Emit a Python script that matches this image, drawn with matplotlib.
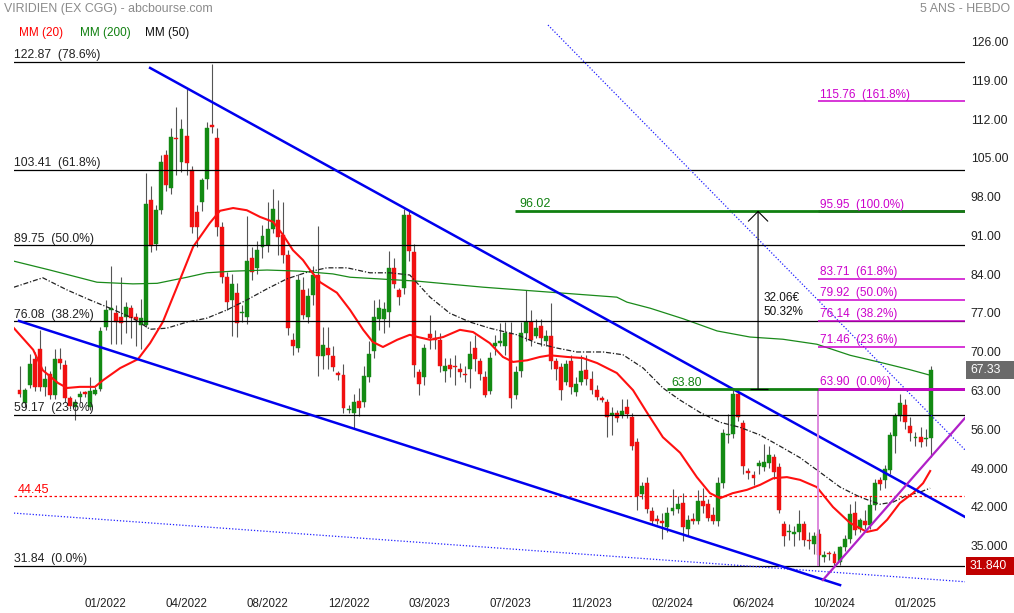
import matplotlib
matplotlib.use('Agg')
import matplotlib.pyplot as plt
import matplotlib.transforms as mtransforms
from matplotlib.patches import Rectangle
import numpy as np

plt.rcParams['font.family'] = ['Liberation Sans', 'DejaVu Sans']

# weekly candles, oldest first
opens = [63.6, 61.2, 64.5, 69.2, 71.0, 64.2, 66.5, 62.7, 69.2, 68.1,
         62.1, 60.6, 62.3, 63.2, 60.6, 63.0, 63.9, 75.1, 78.0, 77.5,
         76.9, 76.9, 78.4, 76.8, 75.4, 75.4, 98.0, 90.0, 96.1, 106.1,
         100.1, 109.2, 104.9, 109.5, 103.4, 95.8, 97.6, 101.7, 111.5, 109.1,
         93.1, 84.1, 79.9, 81.1, 77.5, 76.8, 87.4, 85.6, 89.4, 89.8,
         92.8, 94.3, 91.6, 88.0, 72.7, 71.3, 81.7, 76.9, 80.8, 84.4,
         69.7, 71.2, 69.8, 66.7, 66.3, 60.0, 59.4, 61.7, 61.4, 66.0,
         70.6, 76.4, 76.4, 77.8, 85.6, 81.7, 82.1, 95.2, 88.6, 66.9,
         65.9, 73.7, 73.1, 72.7, 67.1, 68.1, 68.0, 67.5, 66.5, 67.4,
         71.2, 68.8, 66.0, 63.5, 71.6, 72.1, 71.6, 73.9, 62.7, 67.1,
         73.9, 75.9, 73.4, 75.2, 72.5, 73.4, 68.9, 67.7, 65.1, 68.9,
         63.2, 65.0, 67.2, 65.7, 63.7, 62.1, 61.4, 59.2, 59.4, 59.1,
         60.5, 58.8, 54.3, 44.9, 46.9, 41.8, 40.3, 40.0, 38.8, 41.8,
         42.1, 43.3, 38.6, 40.3, 40.0, 43.6, 43.0, 41.1, 40.0, 46.9,
         55.5, 55.7, 63.0, 57.6, 49.0, 48.3, 49.9, 49.8, 50.4, 51.6,
         49.8, 39.4, 38.0, 37.6, 38.0, 39.5, 36.6, 35.9, 37.6, 33.5,
         34.1, 34.1, 32.6, 35.2, 36.7, 41.5, 38.6, 40.0, 39.2, 42.9,
         47.3, 47.3, 49.2, 55.3, 58.9, 61.0, 57.2, 54.9, 55.1, 54.7,
         55.0]
highs = [68.0, 64.0, 70.2, 70.5, 74.5, 68.0, 67.0, 71.0, 71.3, 69.0,
         62.5, 62.0, 63.5, 63.5, 66.0, 64.2, 75.0, 79.9, 86.0, 79.0,
         84.0, 79.5, 79.0, 77.5, 80.0, 102.8, 100.5, 97.0, 106.0, 107.0,
         111.0, 114.8, 112.5, 118.0, 104.0, 97.0, 102.0, 112.0, 122.6, 111.0,
         94.0, 85.0, 84.5, 83.0, 79.0, 95.1, 89.5, 90.5, 93.5, 97.5,
         99.9, 98.0, 97.5, 89.0, 74.0, 84.5, 84.0, 82.0, 86.0, 93.3,
         75.0, 75.0, 71.5, 67.0, 68.3, 61.0, 63.0, 64.0, 68.0, 72.5,
         79.8, 80.0, 79.5, 88.8, 87.5, 82.0, 96.3, 96.0, 90.0, 67.5,
         72.0, 77.2, 74.5, 74.0, 69.5, 69.5, 70.0, 68.5, 68.0, 72.5,
         73.5, 69.5, 67.0, 70.5, 73.5, 75.8, 76.0, 76.0, 68.0, 76.0,
         81.7, 78.0, 76.5, 76.5, 74.5, 79.3, 69.5, 68.5, 69.0, 70.0,
         66.0, 69.9, 70.0, 67.0, 64.5, 62.5, 62.0, 60.5, 60.0, 62.0,
         62.0, 59.5, 55.0, 47.0, 48.0, 42.5, 41.0, 41.5, 42.5, 45.7,
         44.5, 45.0, 41.0, 41.5, 45.5, 46.0, 44.0, 42.5, 48.0, 56.5,
         59.3, 63.8, 63.8, 58.2, 49.5, 49.0, 51.0, 53.9, 53.5, 52.0,
         50.5, 40.0, 39.5, 39.0, 42.0, 40.0, 38.0, 38.0, 38.5, 34.5,
         34.5, 34.5, 35.5, 37.5, 43.0, 43.5, 40.5, 42.0, 44.4, 47.5,
         48.0, 50.0, 56.0, 59.5, 62.9, 62.0, 58.7, 56.0, 57.0, 56.5,
         68.0]
lows = [62.3, 60.5, 64.0, 63.5, 63.5, 62.5, 62.0, 62.0, 67.5, 61.5,
        60.2, 58.3, 61.5, 62.4, 60.0, 62.8, 63.5, 74.5, 72.0, 72.0,
        72.0, 74.0, 73.0, 71.5, 71.0, 75.0, 88.5, 89.0, 95.5, 99.5,
        99.0, 102.5, 103.0, 102.5, 92.0, 89.5, 96.0, 100.0, 110.0, 91.5,
        83.0, 78.0, 73.3, 73.2, 76.0, 75.5, 83.5, 84.5, 87.5, 88.5,
        92.0, 88.0, 86.5, 73.5, 70.0, 70.5, 76.5, 75.7, 79.0, 66.2,
        67.5, 67.5, 67.0, 65.5, 59.5, 59.5, 56.7, 59.0, 60.5, 65.0,
        69.5, 74.5, 74.0, 75.0, 82.0, 79.0, 81.0, 87.0, 66.0, 62.8,
        64.5, 71.0, 71.0, 66.8, 65.0, 66.0, 64.5, 66.0, 65.0, 64.0,
        67.0, 65.5, 62.3, 63.0, 70.0, 71.5, 70.0, 60.3, 62.0, 66.0,
        72.5, 71.5, 73.0, 71.5, 71.5, 67.5, 65.5, 61.8, 64.5, 63.0,
        62.5, 64.5, 64.5, 63.0, 61.8, 61.5, 55.1, 55.5, 57.8, 58.5,
        58.5, 52.8, 42.0, 44.0, 41.5, 39.5, 39.5, 36.8, 38.0, 41.0,
        41.5, 36.4, 37.5, 39.5, 39.5, 41.5, 40.0, 39.5, 39.0, 46.0,
        54.0, 55.0, 58.0, 48.5, 47.5, 46.5, 48.5, 49.0, 49.5, 47.5,
        41.5, 35.5, 36.5, 35.5, 36.5, 35.5, 35.0, 34.0, 31.84, 32.5,
        33.0, 32.0, 32.0, 34.5, 36.0, 37.5, 38.0, 38.5, 38.5, 42.0,
        45.5, 46.0, 48.5, 52.2, 58.0, 56.5, 54.5, 53.5, 53.4, 53.5,
        51.6]
closes = [62.9, 63.6, 68.3, 64.2, 64.2, 65.7, 62.7, 69.2, 68.5, 62.1,
          60.8, 61.5, 62.9, 62.9, 63.5, 63.6, 74.2, 78.1, 78.5, 76.0,
          75.7, 78.7, 76.6, 76.3, 76.6, 97.3, 89.6, 96.1, 104.9, 100.7,
          109.3, 108.9, 110.7, 104.6, 93.1, 93.1, 101.6, 110.9, 111.2, 93.1,
          84.1, 79.6, 82.8, 75.8, 77.8, 86.9, 85.0, 88.9, 91.4, 92.8,
          96.3, 91.3, 88.0, 74.9, 71.6, 83.5, 77.2, 80.6, 84.4, 69.7,
          71.8, 69.9, 67.8, 66.3, 60.3, 60.2, 61.5, 60.3, 66.2, 70.1,
          76.9, 78.4, 78.2, 85.6, 82.8, 80.5, 95.2, 88.8, 68.1, 64.7,
          71.2, 73.1, 72.7, 68.0, 68.0, 67.4, 67.7, 66.9, 66.3, 70.1,
          69.2, 66.6, 62.8, 69.5, 72.2, 72.5, 74.0, 62.1, 66.8, 74.0,
          76.0, 72.7, 74.8, 73.0, 73.4, 68.9, 67.4, 63.6, 68.4, 64.1,
          64.8, 67.1, 65.7, 63.6, 62.3, 61.9, 58.8, 59.5, 58.5, 59.8,
          59.3, 53.6, 44.5, 46.3, 42.1, 40.0, 40.0, 39.7, 41.4, 42.4,
          43.0, 38.8, 40.1, 40.0, 43.6, 42.6, 40.6, 40.0, 46.9, 55.9,
          55.7, 63.0, 58.7, 49.9, 48.7, 47.8, 50.4, 50.7, 51.9, 48.9,
          42.0, 37.3, 38.2, 38.0, 39.5, 36.5, 36.4, 37.3, 33.8, 33.8,
          34.0, 32.3, 35.2, 36.7, 41.2, 38.3, 40.1, 39.3, 42.9, 46.8,
          46.7, 49.3, 55.5, 58.9, 61.3, 57.9, 55.9, 55.0, 54.3, 54.9,
          67.33]

# moving averages (bar index, value)
mm20_idx = [-1.1, 2.7, 4.6, 7.6, 9.4, 11.9, 14.9, 16.5, 19.9, 23.4, 25.8, 28.3, 31.1, 34.3, 37.6,
            39.6, 42.2, 44.9, 47.5, 50.1, 52.1, 54.0, 56.0, 57.4, 59.4, 62.7, 65.3, 67.9, 69.8, 71.8,
            74.6, 77.1, 78.7, 81.1, 83.7, 87.0, 89.6, 92.9, 95.5, 97.5, 100.3, 102.8, 104.8, 108.2, 111.3,
            114.1, 118.0, 121.2, 124.0, 127.1, 130.5, 133.8, 136.4, 138.4, 140.9, 143.7, 146.3, 148.9, 151.6,
            154.2, 157.5, 160.7, 164.1, 167.4, 169.4, 171.4, 173.9, 176.5, 178.5, 179.9]
mm20_val = [74.8, 70.9, 67.2, 64.9, 64.0, 64.2, 64.2, 65.4, 67.6, 69.2, 72.1, 75.9, 82.2, 89.5, 93.8,
            96.0, 96.5, 96.1, 94.9, 94.0, 91.6, 88.9, 87.1, 85.3, 83.1, 81.2, 78.1, 74.5, 72.3, 71.4,
            72.7, 73.6, 73.2, 72.7, 73.2, 74.5, 74.1, 72.1, 69.6, 68.7, 69.0, 69.6, 69.9, 69.6, 69.4,
            68.5, 66.7, 63.6, 59.5, 55.1, 52.3, 47.9, 45.0, 44.1, 45.0, 45.6, 46.5, 47.7, 47.9,
            47.4, 46.1, 42.5, 39.6, 38.0, 38.4, 40.2, 43.2, 45.0, 46.8, 49.0]
mm50_idx = [-1.1, 4.6, 9.4, 13.9, 17.9, 22.4, 25.8, 29.1, 33.1, 37.0, 41.0, 44.9, 48.9, 52.8, 56.8,
            60.7, 64.7, 69.2, 73.2, 77.1, 81.1, 85.0, 89.0, 92.9, 98.3, 102.2, 106.2, 110.1, 115.3, 119.2,
            123.2, 127.1, 130.5, 134.4, 138.4, 142.3, 146.3, 150.2, 154.2, 158.1, 162.1, 166.0, 170.0,
            172.6, 175.3, 177.9, 179.9]
mm50_val = [82.2, 83.9, 81.7, 79.9, 78.4, 76.6, 74.6, 74.8, 75.9, 76.6, 78.1, 79.9, 81.9, 83.7, 84.9,
            85.7, 85.7, 84.8, 84.8, 84.4, 80.4, 77.5, 75.9, 74.8, 73.6, 72.1, 71.2, 70.5, 70.5, 70.0,
            67.6, 64.0, 61.8, 59.6, 57.8, 56.9, 55.5, 53.5, 51.4, 48.8, 46.1, 44.3, 43.0,
            43.4, 44.6, 45.2, 45.9]
mm200_idx = [-1.1, 6.0, 15.3, 22.4, 27.2, 33.1, 37.0, 42.2, 48.9, 55.4, 61.9, 65.3, 78.5, 91.6,
             104.8, 118.0, 120.0, 124.6, 131.1, 137.8, 144.3, 150.8, 157.5, 164.1, 170.6, 175.9, 179.9]
mm200_val = [86.9, 85.3, 83.1, 82.8, 82.9, 84.0, 84.8, 85.1, 85.3, 85.1, 84.6, 84.0, 83.3, 82.2,
             81.3, 80.4, 79.5, 78.4, 76.5, 74.3, 73.2, 72.8, 71.9, 69.9, 68.5, 67.3, 66.3]

tick_idx = [17, 33, 49, 65, 81, 97, 113, 129, 145, 161, 177]
tick_labels = ['01/2022', '04/2022', '08/2022', '12/2022', '03/2023', '07/2023',
               '11/2023', '02/2024', '06/2024', '10/2024', '01/2025']

y_ticks = [126, 119, 112, 105, 98, 91, 84, 77, 70, 63, 56, 49, 42, 35]
y_tick_labels = ['126.00', '119.00', '112.00', '105.00', '98.00', '91.00', '84.00',
                 '77.00', '70.00', '63.00', '56.00', '49.000', '42.000', '35.000']

# fibonacci retracement (black) and extension (magenta)
retr_levels = [122.87, 103.41, 89.75, 76.08, 59.17, 31.84]
retr_pcts = ['78.6%', '61.8%', '50.0%', '38.2%', '23.6%', '0.0%']
ext_levels = [115.76, 95.95, 83.71, 79.92, 76.14, 71.46, 63.90]
ext_pcts = ['161.8%', '100.0%', '61.8%', '50.0%', '38.2%', '23.6%', '0.0%']
ext_start = 157.8

support = 44.45
top_level, top_start = 96.02, 97.9
base_level, base_start = 63.80, 127.9
gain_eur, gain_pct = 32.06, 50.32
arrow_idx = 145.9
last_close = 67.33
low_price = 31.84

# trendlines as (bar index, price) end points
upper_chan = ([25.8, 186.8], [121.8, 40.7])
lower_chan = ([-0.1, 162.1], [76.1, 28.4])
dotted_low = ([-1.1, 186.8], [41.4, 29.0])
dotted_high = ([104.4, 186.8], [129.55, 52.8])
uptrend = ([158.7, 186.8], [29.3, 58.6])

W, H = 1014, 613
fig = plt.figure(figsize=(W / 100, H / 100), dpi=100)
ax = fig.add_axes([14 / W, 23 / H, 951 / W, 572 / H])
x_left, x_right = -1.087, 186.78
ax.set_xlim(x_left, x_right)
ax.set_ylim(27.51, 130.82)
for s in ax.spines.values():
    s.set_visible(False)

# candles
o = np.array(opens)
c = np.array(closes)
x = np.arange(len(o))
up = c >= o
cols = np.where(up, '#138a13', '#f01010')
body_lo = np.minimum(o, c)
body_h = np.maximum(np.abs(c - o), 0.22)
ax.vlines(x, lows, highs, color='#555555', lw=0.8, zorder=2)
ax.bar(x, body_h, bottom=body_lo, width=0.78, color=cols, edgecolor=cols, lw=0.3, zorder=3)

# moving averages
ax.plot(mm200_idx, mm200_val, color='#1a8a1a', lw=0.9, zorder=4)
ax.plot(mm50_idx, mm50_val, color='#222222', lw=0.9, ls=(0, (4, 1.5, 1, 1.5)), zorder=4)
ax.plot(mm20_idx, mm20_val, color='#ff1010', lw=1.5, zorder=4)

blend = mtransforms.blended_transform_factory(ax.transAxes, ax.transData)

# retracement levels
for lv, p in zip(retr_levels, retr_pcts):
    ax.axhline(lv, color='black', lw=0.9, zorder=5)
    ax.text(0.0, lv + 0.1, f'{lv:.2f}  ({p})', transform=blend, ha='left', va='bottom',
            fontsize=8.7, color='#222222', zorder=6)

ax.axhline(support, color='#ff0000', lw=0.9, ls=(0, (2, 2)), zorder=5)
ax.text(0.004, support + 0.1, f'{support:.2f}', transform=blend, ha='left', va='bottom',
        fontsize=9.2, color='#ff0000')

# trendlines
ax.plot(*dotted_low, color='#2020ff', lw=0.9, ls=(0, (1, 1.5)), zorder=5)
ax.plot(*dotted_high, color='#2020ff', lw=0.9, ls=(0, (1, 1.5)), zorder=5)
ax.plot(*upper_chan, color='#0000ee', lw=1.8, zorder=5)
ax.plot(*lower_chan, color='#0000ee', lw=1.8, zorder=5)
ax.plot(*uptrend, color='#b020c8', lw=1.6, zorder=5)

# extension
ax.vlines(ext_start, low_price, ext_levels[-1], color='#dd88dd', lw=1.4, zorder=5)
ax.hlines(base_level, base_start, x_right, color='#108010', lw=2.0, zorder=6)
ax.text(base_start + 0.8, base_level + 0.1, f'{base_level:.2f}', ha='left', va='bottom',
        fontsize=8.7, color='#108010')
for lv, p in zip(ext_levels, ext_pcts):
    lw = 2.0 if lv in (ext_levels[1], ext_levels[-1]) else 1.1
    ax.hlines(lv, ext_start, x_right, color='#cc00cc', lw=lw, zorder=6)
    ax.text(ext_start + 0.3, lv + 0.1, f'{lv:.2f}  ({p})', ha='left', va='bottom',
            fontsize=8.5, color='#cc00cc', zorder=7)
ax.hlines(top_level, top_start, x_right, color='#108010', lw=2.0, zorder=6)
ax.text(top_start + 0.8, top_level + 0.1, f'{top_level:.2f}', ha='left', va='bottom',
        fontsize=9, color='#108010')

# gain arrow
ax.annotate('', xy=(arrow_idx, top_level), xytext=(arrow_idx, base_level),
            arrowprops=dict(arrowstyle='->,head_length=0.35,head_width=0.35', color='black',
                            lw=0.8, mutation_scale=20, shrinkA=0, shrinkB=0), zorder=7)
ax.hlines(base_level, arrow_idx - 1.6, arrow_idx + 2.0, color='black', lw=0.9, zorder=7)
ax.text(arrow_idx + 1.0, (top_level + base_level) / 2 - 0.9,
        f'{gain_eur:.2f}€\n{gain_pct:.2f}%', ha='left', va='center', fontsize=8.5,
        linespacing=1.15, color='#111111', zorder=7)

# axes
ax.yaxis.tick_right()
ax.set_yticks(y_ticks)
ax.set_yticklabels(y_tick_labels)
ax.tick_params(axis='y', length=0, pad=4.2, labelsize=8.7, labelcolor='#222222')
for lab in ax.get_yticklabels():
    lab.set_transform(lab.get_transform() + mtransforms.ScaledTranslation(0, 3 / 100, fig.dpi_scale_trans))
ax.set_xticks(tick_idx)
ax.set_xticklabels(tick_labels)
ax.tick_params(axis='x', length=0, pad=5.5, labelsize=8.3, labelcolor='#222222')

# price boxes on the right axis
box_tr = mtransforms.blended_transform_factory(fig.transFigure, ax.transData)
box_h = 18 / 5.537
for v, txt, fc in [(last_close, f'{last_close:.2f}', '#6a6a6a'),
                   (low_price, f'{low_price:.3f}', '#c00000')]:
    ax.add_patch(Rectangle((966 / W, v - box_h / 2), 48 / W, box_h, transform=box_tr,
                           facecolor=fc, edgecolor='none', clip_on=False, zorder=8))
    ax.text(970 / W, v, txt, transform=box_tr, ha='left', va='center', fontsize=8.7,
            color='white', clip_on=False, zorder=9)

# header
fig.text(4 / W, 1 - 9 / H, 'VIRIDIEN (EX CGG) - abcbourse.com', ha='left', va='center',
         fontsize=8.9, color='#8a8a8a')
fig.text(1010 / W, 1 - 9 / H, '5 ANS - HEBDO', ha='right', va='center',
         fontsize=8.9, color='#8a8a8a')
fig.text(19 / W, 1 - 33 / H, 'MM (20)', ha='left', va='center', fontsize=8.5, color='#ff0000')
fig.text(80 / W, 1 - 33 / H, 'MM (200)', ha='left', va='center', fontsize=8.5, color='#108010')
fig.text(145 / W, 1 - 33 / H, 'MM (50)', ha='left', va='center', fontsize=8.5, color='#111111')

fig.savefig('out.png', dpi=100)
